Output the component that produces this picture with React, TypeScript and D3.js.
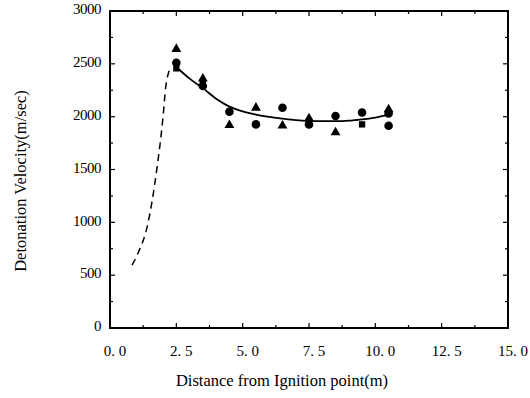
import * as d3 from 'd3';

const X_TICKS = [0, 2.5, 5, 7.5, 10, 12.5, 15];
const Y_TICKS = [0, 500, 1000, 1500, 2000, 2500, 3000];

const CIRCLES: [number, number][] = [
  [2.5, 2510], [3.5, 2290], [4.5, 2046], [5.5, 1927], [6.5, 2084],
  [7.5, 1927], [8.5, 2006], [9.5, 2040], [10.5, 2031], [10.5, 1914],
];
const TRIANGLES: [number, number][] = [
  [2.5, 2640], [3.5, 2360], [4.5, 1920], [5.5, 2084], [6.5, 1914],
  [7.5, 1984], [8.5, 1851], [10.5, 2069],
];
const SQUARES: [number, number][] = [[2.5, 2457], [3.5, 2320], [9.5, 1927]];

const FIT_CURVE: [number, number][] = [
  [2.5, 2470], [3, 2360], [3.5, 2270], [4, 2170], [4.5, 2095], [5, 2050],
  [5.5, 2020], [6, 1998], [6.5, 1982], [7, 1968], [7.5, 1960], [8, 1957],
  [8.5, 1957], [9, 1962], [9.5, 1975], [10, 1992], [10.5, 2020],
];
const RISE_CURVE: [number, number][] = [
  [0.83, 595], [1.06, 710], [1.43, 990], [1.76, 1495], [2.0, 2000],
  [2.1, 2280], [2.2, 2410], [2.32, 2470],
];

const W = 530;
const H = 398;
const M = { left: 110, right: 508, top: 11, bottom: 328 };
const FONT = 'Liberation Serif, DejaVu Serif, serif';

export default function App() {
  const x = d3.scaleLinear().domain([0, 15]).range([M.left, M.right]);
  const y = d3.scaleLinear().domain([0, 3000]).range([M.bottom, M.top]);
  const line = d3.line<[number, number]>().x(d => x(d[0])).y(d => y(d[1])).curve(d3.curveMonotoneX);

  const minorX = d3.range(1.25, 15, 2.5);
  const minorY = d3.range(250, 3000, 500);
  const tri = d3.symbol(d3.symbolTriangle, 42)();
  const sq = d3.symbol(d3.symbolSquare, 40)();

  return (
    <svg width={W} height={H} style={{ position: 'absolute', left: 0, top: 0, background: '#fff' }}>
      {/* ticks, pointing inward on all four sides */}
      {X_TICKS.concat(minorX).map((t, i) => {
        const len = t % 2.5 === 0 ? 5 : 3;
        return (
          <g key={'xt' + i} stroke="#000" strokeWidth={1.2}>
            <line x1={x(t)} x2={x(t)} y1={M.bottom} y2={M.bottom - len} />
            <line x1={x(t)} x2={x(t)} y1={M.top} y2={M.top + len} />
          </g>
        );
      })}
      {Y_TICKS.concat(minorY).map((t, i) => {
        const len = t % 500 === 0 ? 5 : 3;
        return (
          <g key={'yt' + i} stroke="#000" strokeWidth={1.2}>
            <line x1={M.left} x2={M.left + len} y1={y(t)} y2={y(t)} />
            <line x1={M.right} x2={M.right - len} y1={y(t)} y2={y(t)} />
          </g>
        );
      })}
      <rect x={M.left} y={M.top} width={M.right - M.left} height={M.bottom - M.top}
        fill="none" stroke="#000" strokeWidth={2} />

      <path d={line(RISE_CURVE) ?? ''} fill="none" stroke="#000" strokeWidth={1.5} strokeDasharray="7 5" />
      <path d={line(FIT_CURVE) ?? ''} fill="none" stroke="#000" strokeWidth={1.8} />

      {CIRCLES.map((d, i) => (
        <circle key={'c' + i} cx={x(d[0])} cy={y(d[1])} r={4.3} fill="#000" />
      ))}
      {TRIANGLES.map((d, i) => (
        <path key={'t' + i} d={tri ?? ''} transform={`translate(${x(d[0])},${y(d[1])})`} fill="#000" />
      ))}
      {SQUARES.map((d, i) => (
        <path key={'s' + i} d={sq ?? ''} transform={`translate(${x(d[0])},${y(d[1])})`} fill="#000" />
      ))}

      <g fontFamily={FONT} fontSize={15} fill="#000">
        {Y_TICKS.map(t => (
          <text key={'yl' + t} x={101} y={y(t) - 2} dy="0.35em" textAnchor="end" letterSpacing={-0.5}>{t}</text>
        ))}
        {X_TICKS.map(t => (
          <text key={'xl' + t} x={x(t) + 5} y={356} textAnchor="middle">
            {d3.format('.1f')(t).replace('.', '. ')}
          </text>
        ))}
        <text x={282} y={386} textAnchor="middle" fontSize={16.5}>Distance from Ignition point(m)</text>
        <text transform={`translate(26,${181}) rotate(-90)`} textAnchor="middle" fontSize={16.5}>
          Detonation  Velocity(m/sec)
        </text>
      </g>
    </svg>
  );
}
